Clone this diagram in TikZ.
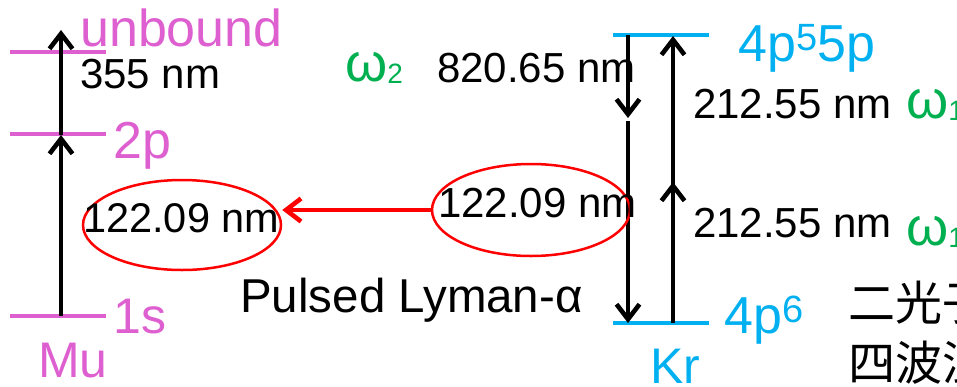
\documentclass[tikz,border=0pt]{standalone}
\usepackage{fontspec}
\setmainfont{Liberation Sans}
\newfontfamily\cjk{Noto Sans CJK JP}
\usetikzlibrary{arrows.meta,shapes.geometric}
\definecolor{mumag}{HTML}{DD5FD0}
\definecolor{krblue}{HTML}{00B0F0}
\definecolor{omgreen}{HTML}{00B050}
\newcommand\fs[1]{\fontsize{#1}{#1}\selectfont}
\newcommand\omg[1]{{\color{omgreen}\fs{54}ω\raisebox{-2pt}{\fs{28}#1}}}
\tikzset{
  lvl/.style={line width=4pt},
  barb/.style={-{Straight Barb[length=15pt,width=23pt]}},
  trans/.style={line width=4.6pt,barb},
  txt/.style={inner sep=0pt,anchor=base west},
  ring/.style={ellipse,draw=red,line width=2.5pt,inner sep=0pt},
}
\begin{document}
\begin{tikzpicture}[x=1pt,y=-1pt]
\useasboundingbox (0,0) rectangle (957,386);
\clip (0,0) rectangle (957,386);

% Mu levels
\coordinate (ub-l) at (10,52);  \coordinate (ub-r) at (106,52);
\coordinate (p2-l) at (10,134); \coordinate (p2-r) at (106,134);
\coordinate (s1-l) at (10,316); \coordinate (s1-r) at (106,316);
\draw[lvl,mumag] (ub-l) -- (ub-r);
\draw[lvl,mumag] (p2-l) -- (p2-r);
\draw[lvl,mumag] (s1-l) -- (s1-r);

% Mu transitions
\coordinate (mu-1s) at (61,316);
\coordinate (mu-2p) at (61,135);
\coordinate (mu-ub) at (61,30);
\draw[trans] (mu-1s) -- (mu-2p);
\draw[trans] (mu-2p) -- (mu-ub);

% Kr levels
\coordinate (kx-l) at (613,35);  \coordinate (kx-r) at (709,35);
\coordinate (kg-l) at (613,323); \coordinate (kg-r) at (709,323);
\draw[lvl,krblue] (kx-l) -- (kx-r);
\draw[lvl,krblue] (kg-l) -- (kg-r);

% Kr transitions
\coordinate (d-top) at (628,35);
\coordinate (d-mid) at (628,118);
\coordinate (d-mid2) at (628,121);
\coordinate (d-bot) at (628,323);
\coordinate (u-bot) at (673,323);
\coordinate (u-mid) at (673,182);
\coordinate (u-mid2) at (673,186);
\coordinate (u-top) at (673,36);
\draw[trans] (d-top) -- (d-mid);
\draw[trans] (d-mid2) -- (d-bot);
\draw[trans] (u-bot) -- (u-mid);
\draw[trans] (u-mid2) -- (u-top);

% highlighted Lyman-alpha lines
\node[ring,minimum width=198pt,minimum height=90pt] (lE) at (182,225) {};
\node[ring,minimum width=198pt,minimum height=92pt] (rE) at (531,210) {};
\draw[red,line width=4.6pt,barb] (rE.west) -- (lE.east |- rE.west);

% Mu labels
\node[txt,mumag,font=\fs{52}] (t-ub) at (80,46) {unbound};
\node[txt,font=\fs{42}] (t-355) at (80,88) {355 nm};
\node[txt,mumag,font=\fs{52}] (t-2p) at (113,158) {2p};
\node[txt,font=\fs{41.5}] (t-lya-l) at (83,232) {122.09 nm};
\node[txt,mumag,font=\fs{50}] (t-1s) at (113,333) {1s};
\node[txt,mumag,font=\fs{50}] (t-mu) at (38,377) {Mu};

% centre labels
\node[txt] (t-w2) at (345,81) {\omg{2}};
\node[txt,font=\fs{42}] (t-820) at (437,82) {820.65 nm};
\node[txt,font=\fs{42}] (t-lya-r) at (438,217) {122.09 nm};
\node[txt,font=\fs{47.5}] (t-puls) at (240,312) {Pulsed Lyman-α};

% Kr labels
\node[txt,krblue,font=\fs{52}] (t-kx) at (738,61) {4p\raisebox{11pt}{\fs{38}5}5p};
\node[txt,font=\fs{42}] (t-212a) at (693,118) {212.55 nm};
\node[txt] (t-w1a) at (906,118) {\omg{1}};
\node[txt,font=\fs{42}] (t-212b) at (693,237) {212.55 nm};
\node[txt] (t-w1b) at (906,245) {\omg{1}};
\node[txt,krblue,font=\fs{52}] (t-kg) at (724,333) {4p\raisebox{11pt}{\fs{38}6}};
\node[txt,krblue,font=\fs{50}] (t-kr) at (650,383) {Kr};

% notes
\node[txt,font=\cjk\fs{47}] (t-n1) at (848,320) {二光子};
\node[txt,font=\cjk\fs{47}] (t-n2) at (848,380) {四波混};
\end{tikzpicture}
\end{document}
